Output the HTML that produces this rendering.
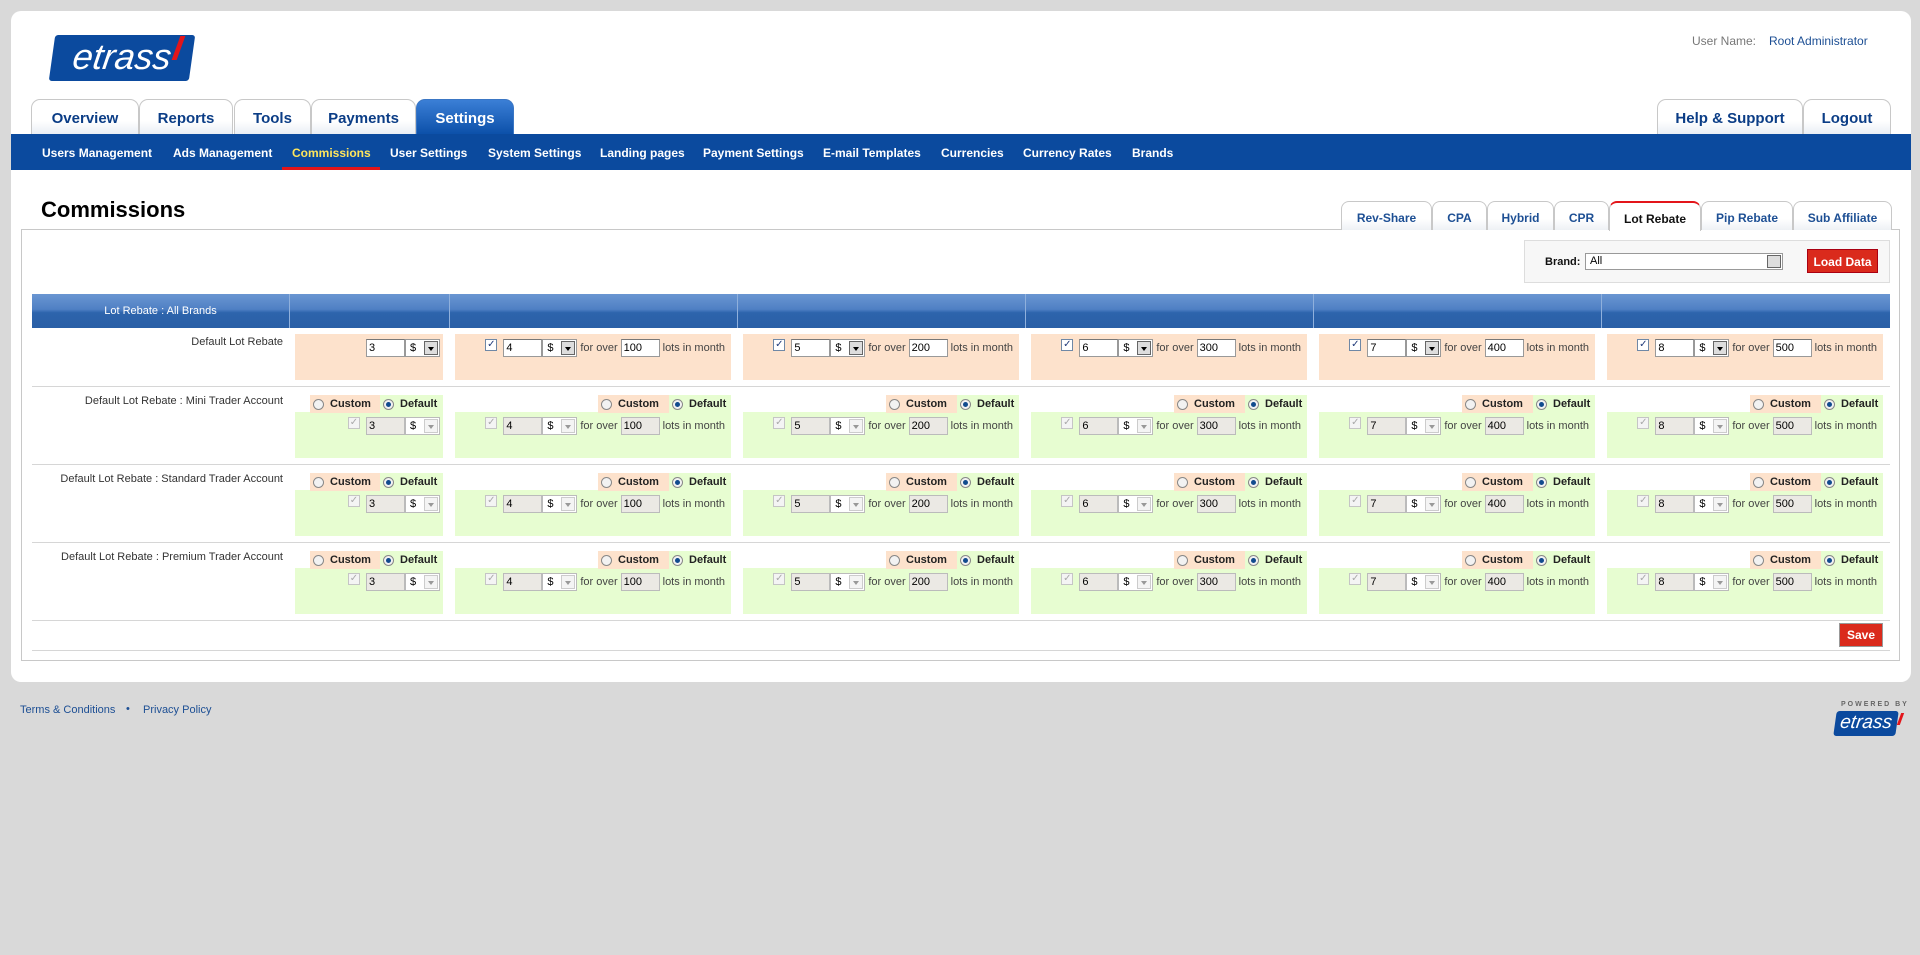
<!DOCTYPE html>
<html><head><meta charset="utf-8">
<style>
*{margin:0;padding:0;box-sizing:border-box}
body{width:1920px;height:955px;background:#d9d9d9;font-family:"Liberation Sans",Arial,sans-serif;position:relative;overflow:hidden;font-size:11px;color:#333}
.abs{position:absolute}
#panel{left:11px;top:11px;width:1900px;height:671px;background:#fff;border-radius:10px}
.logo{background:#0b4a9e;color:#fff;font-style:italic;transform:skewX(-8deg);border-radius:3px;font-family:"Liberation Sans",sans-serif;text-align:center}
.tab{top:99px;height:36px;border:1px solid #c8c8c8;border-bottom:none;border-radius:9px 9px 0 0;background:linear-gradient(#fff 60%,#e8edf4);color:#0b3d86;font-weight:bold;font-size:15px;text-align:center;line-height:38px}
.tab.on{background:linear-gradient(#3b7fd6,#0b4fa8);color:#fff;border-color:#3a76c4}
#nav{left:11px;top:134px;width:1900px;height:36px;background:#0b4a9e}
#nav span{position:absolute;top:12px;color:#fff;font-weight:bold;font-size:12px}
.st{top:201px;height:29px;border:1px solid #c8c8c8;border-bottom:none;border-radius:8px 8px 0 0;background:linear-gradient(#fff 60%,#eef1f5);color:#1d4f94;font-weight:bold;font-size:12px;text-align:center;line-height:32px}
.st.on{border-top:2px solid #e3151a;color:#111;background:#fff;height:30px}
.cell{position:absolute;display:flex;justify-content:flex-end;align-items:center;padding:0 3px 0 0;height:18px}
.pe{background:#fde2cc}.gr{background:#e7fdd1}
.cb{width:12px;height:12px;border:1px solid #6f88a6;background:#fff;margin-right:6px;position:relative;top:-3px;font-size:10px;line-height:10px;color:#223b7a;text-align:center}
.in{width:39px;height:18px;border:1px solid #999;border-top-color:#777;background:#fff;padding-left:2px;font-size:11px;line-height:16px;color:#000}
.sel{width:35px;height:18px;border:1px solid #999;background:#fff;position:relative;padding-left:4px;line-height:16px;color:#000}
.sel i{position:absolute;right:1px;top:1px;width:14px;height:14px;background:#ddd;border:1px solid #666}
.sel i:after{content:"";position:absolute;left:3px;top:5px;border:3px solid transparent;border-top:4px solid #000}
.t{margin:0 3px 0 3px;color:#444}
.d .in{background:#ebe9e4;border-color:#bbb}
.d .sel{border-color:#bbb}.d .sel i{background:#f4f4f4;border-color:#ccc}.d .sel i:after{border-top-color:#999}
.d .cb{border-color:#c5c5c5;color:#aaa;background:#f4f4f4}
.rad{position:absolute;height:18px;display:flex;font-weight:bold;font-size:11px;color:#222}
.rad span{display:flex;align-items:center;padding:0 3px}
.rad b{display:inline-block;width:11px;height:11px;border-radius:50%;border:1px solid #888;background:#f2f2f2;margin-right:6px;position:relative}
.rad b.on:after{content:"";position:absolute;left:2px;top:2px;width:5px;height:5px;border-radius:50%;background:#114b8e}
.lbl{position:absolute;right:1637px;font-size:11px;color:#333;text-align:right;white-space:nowrap}
.sep{position:absolute;left:32px;width:1858px;height:1px;background:#d6d6d6}
.hd{position:absolute;top:294px;height:34px;background:linear-gradient(#6a96d2,#4f80c4 45%,#2d64ac 55%,#2a5fa6);border-right:1px solid #8fb0dc}
</style></head><body>
<div id="panel" class="abs"></div>
<div class="abs logo" style="left:52px;top:35px;width:140px;height:46px;font-size:36px;line-height:44px;">etrass</div>
<div class="abs" style="left:176px;top:36px;width:5px;height:24px;background:#e3151a;transform:skewX(-20deg)"></div>
<div class="abs" style="left:1692px;top:34px;font-size:12px;color:#777">User Name:</div>
<div class="abs" style="left:1769px;top:34px;font-size:12px;color:#1d4f94">Root Administrator</div>

<div class="abs tab" style="left:31px;width:108px">Overview</div>
<div class="abs tab" style="left:139px;width:94px">Reports</div>
<div class="abs tab" style="left:234px;width:77px">Tools</div>
<div class="abs tab" style="left:311px;width:105px">Payments</div>
<div class="abs tab on" style="left:416px;width:98px">Settings</div>
<div class="abs tab" style="left:1657px;width:146px">Help &amp; Support</div>
<div class="abs tab" style="left:1803px;width:88px">Logout</div>

<div id="nav" class="abs">
<span style="left:31px">Users Management</span>
<span style="left:162px">Ads Management</span>
<span style="left:281px;color:#ffe65c">Commissions</span>
<span style="left:379px">User Settings</span>
<span style="left:477px">System Settings</span>
<span style="left:589px">Landing pages</span>
<span style="left:692px">Payment Settings</span>
<span style="left:812px">E-mail Templates</span>
<span style="left:930px">Currencies</span>
<span style="left:1012px">Currency Rates</span>
<span style="left:1121px">Brands</span>
<div class="abs" style="left:271px;top:33px;width:98px;height:3px;background:#e3151a"></div>
</div>

<div class="abs" style="left:41px;top:197px;font-size:22px;font-weight:bold;color:#000">Commissions</div>
<div class="abs" style="left:21px;top:229px;width:1879px;height:432px;border:1px solid #c8c8c8"></div>

<div class="abs st" style="left:1341px;width:91px">Rev-Share</div>
<div class="abs st" style="left:1432px;width:55px">CPA</div>
<div class="abs st" style="left:1487px;width:67px">Hybrid</div>
<div class="abs st" style="left:1554px;width:55px">CPR</div>
<div class="abs st on" style="left:1609px;width:92px">Lot Rebate</div>
<div class="abs st" style="left:1701px;width:92px">Pip Rebate</div>
<div class="abs st" style="left:1793px;width:99px">Sub Affiliate</div>

<div class="abs" style="left:1524px;top:240px;width:366px;height:43px;background:#f7f7f7;border:1px solid #ddd"></div>
<div class="abs" style="left:1545px;top:256px;font-weight:bold;font-size:11px;color:#111">Brand:</div>
<div class="abs" style="left:1585px;top:253px;width:198px;height:17px;border:1px solid #999;background:#fff;padding-left:4px;line-height:15px;font-size:11px;color:#000">All<i style="position:absolute;right:1px;top:1px;width:14px;height:13px;background:#ddd;border:1px solid #666"></i></div>
<div class="abs" style="left:1807px;top:249px;width:71px;height:24px;background:#da2a1c;border:1px solid #a01;color:#fff;font-weight:bold;font-size:12px;text-align:center;line-height:24px">Load Data</div>

<div class="hd" style="left:32px;width:258px;color:#fff;text-align:center;line-height:34px;font-size:11px">Lot Rebate : All Brands</div>
<div class="hd" style="left:290px;width:160px"></div>
<div class="hd" style="left:450px;width:288px"></div>
<div class="hd" style="left:738px;width:288px"></div>
<div class="hd" style="left:1026px;width:288px"></div>
<div class="hd" style="left:1314px;width:288px"></div>
<div class="hd" style="left:1602px;width:288px;border-right:none"></div>

<!-- Row 1 -->
<div class="lbl" style="top:336px">Default Lot Rebate</div>
<div class="abs pe" style="left:295px;top:334px;width:148px;height:46px"></div>
<div class="abs pe" style="left:455px;top:334px;width:276px;height:46px"></div>
<div class="abs pe" style="left:743px;top:334px;width:276px;height:46px"></div>
<div class="abs pe" style="left:1031px;top:334px;width:276px;height:46px"></div>
<div class="abs pe" style="left:1319px;top:334px;width:276px;height:46px"></div>
<div class="abs pe" style="left:1607px;top:334px;width:276px;height:46px"></div>
<div class="cell" style="left:295px;top:339px;width:148px"><div class="in">3</div><div class="sel">$<i></i></div></div>
<div class="cell" style="left:455px;top:339px;width:276px"><div class="cb">✓</div><div class="in">4</div><div class="sel">$<i></i></div><span class="t">for over</span><div class="in">100</div><span class="t">lots in month</span></div>
<div class="cell" style="left:743px;top:339px;width:276px"><div class="cb">✓</div><div class="in">5</div><div class="sel">$<i></i></div><span class="t">for over</span><div class="in">200</div><span class="t">lots in month</span></div>
<div class="cell" style="left:1031px;top:339px;width:276px"><div class="cb">✓</div><div class="in">6</div><div class="sel">$<i></i></div><span class="t">for over</span><div class="in">300</div><span class="t">lots in month</span></div>
<div class="cell" style="left:1319px;top:339px;width:276px"><div class="cb">✓</div><div class="in">7</div><div class="sel">$<i></i></div><span class="t">for over</span><div class="in">400</div><span class="t">lots in month</span></div>
<div class="cell" style="left:1607px;top:339px;width:276px"><div class="cb">✓</div><div class="in">8</div><div class="sel">$<i></i></div><span class="t">for over</span><div class="in">500</div><span class="t">lots in month</span></div>
<div class="sep" style="top:386px"></div>

<!-- Row 2 -->
<div class="lbl" style="top:395px">Default Lot Rebate : Mini Trader Account</div>
<div class="abs gr" style="left:295px;top:412px;width:148px;height:46px"></div>
<div class="abs gr" style="left:455px;top:412px;width:276px;height:46px"></div>
<div class="abs gr" style="left:743px;top:412px;width:276px;height:46px"></div>
<div class="abs gr" style="left:1031px;top:412px;width:276px;height:46px"></div>
<div class="abs gr" style="left:1319px;top:412px;width:276px;height:46px"></div>
<div class="abs gr" style="left:1607px;top:412px;width:276px;height:46px"></div>
<div class="rad" style="left:310px;top:395px"><span class="pe" style="width:70px"><b></b>Custom</span><span class="gr" style="width:63px"><b class="on"></b>Default</span></div>
<div class="rad" style="left:598px;top:395px"><span class="pe" style="width:71px"><b></b>Custom</span><span class="gr" style="width:62px"><b class="on"></b>Default</span></div>
<div class="rad" style="left:886px;top:395px"><span class="pe" style="width:71px"><b></b>Custom</span><span class="gr" style="width:62px"><b class="on"></b>Default</span></div>
<div class="rad" style="left:1174px;top:395px"><span class="pe" style="width:71px"><b></b>Custom</span><span class="gr" style="width:62px"><b class="on"></b>Default</span></div>
<div class="rad" style="left:1462px;top:395px"><span class="pe" style="width:71px"><b></b>Custom</span><span class="gr" style="width:62px"><b class="on"></b>Default</span></div>
<div class="rad" style="left:1750px;top:395px"><span class="pe" style="width:71px"><b></b>Custom</span><span class="gr" style="width:62px"><b class="on"></b>Default</span></div>
<div class="cell d" style="left:295px;top:417px;width:148px"><div class="cb">✓</div><div class="in">3</div><div class="sel">$<i></i></div></div>
<div class="cell d" style="left:455px;top:417px;width:276px"><div class="cb">✓</div><div class="in">4</div><div class="sel">$<i></i></div><span class="t">for over</span><div class="in">100</div><span class="t">lots in month</span></div>
<div class="cell d" style="left:743px;top:417px;width:276px"><div class="cb">✓</div><div class="in">5</div><div class="sel">$<i></i></div><span class="t">for over</span><div class="in">200</div><span class="t">lots in month</span></div>
<div class="cell d" style="left:1031px;top:417px;width:276px"><div class="cb">✓</div><div class="in">6</div><div class="sel">$<i></i></div><span class="t">for over</span><div class="in">300</div><span class="t">lots in month</span></div>
<div class="cell d" style="left:1319px;top:417px;width:276px"><div class="cb">✓</div><div class="in">7</div><div class="sel">$<i></i></div><span class="t">for over</span><div class="in">400</div><span class="t">lots in month</span></div>
<div class="cell d" style="left:1607px;top:417px;width:276px"><div class="cb">✓</div><div class="in">8</div><div class="sel">$<i></i></div><span class="t">for over</span><div class="in">500</div><span class="t">lots in month</span></div>
<div class="sep" style="top:464px"></div>

<!-- Row 3 -->
<div class="lbl" style="top:473px">Default Lot Rebate : Standard Trader Account</div>
<div class="abs gr" style="left:295px;top:490px;width:148px;height:46px"></div>
<div class="abs gr" style="left:455px;top:490px;width:276px;height:46px"></div>
<div class="abs gr" style="left:743px;top:490px;width:276px;height:46px"></div>
<div class="abs gr" style="left:1031px;top:490px;width:276px;height:46px"></div>
<div class="abs gr" style="left:1319px;top:490px;width:276px;height:46px"></div>
<div class="abs gr" style="left:1607px;top:490px;width:276px;height:46px"></div>
<div class="rad" style="left:310px;top:473px"><span class="pe" style="width:70px"><b></b>Custom</span><span class="gr" style="width:63px"><b class="on"></b>Default</span></div>
<div class="rad" style="left:598px;top:473px"><span class="pe" style="width:71px"><b></b>Custom</span><span class="gr" style="width:62px"><b class="on"></b>Default</span></div>
<div class="rad" style="left:886px;top:473px"><span class="pe" style="width:71px"><b></b>Custom</span><span class="gr" style="width:62px"><b class="on"></b>Default</span></div>
<div class="rad" style="left:1174px;top:473px"><span class="pe" style="width:71px"><b></b>Custom</span><span class="gr" style="width:62px"><b class="on"></b>Default</span></div>
<div class="rad" style="left:1462px;top:473px"><span class="pe" style="width:71px"><b></b>Custom</span><span class="gr" style="width:62px"><b class="on"></b>Default</span></div>
<div class="rad" style="left:1750px;top:473px"><span class="pe" style="width:71px"><b></b>Custom</span><span class="gr" style="width:62px"><b class="on"></b>Default</span></div>
<div class="cell d" style="left:295px;top:495px;width:148px"><div class="cb">✓</div><div class="in">3</div><div class="sel">$<i></i></div></div>
<div class="cell d" style="left:455px;top:495px;width:276px"><div class="cb">✓</div><div class="in">4</div><div class="sel">$<i></i></div><span class="t">for over</span><div class="in">100</div><span class="t">lots in month</span></div>
<div class="cell d" style="left:743px;top:495px;width:276px"><div class="cb">✓</div><div class="in">5</div><div class="sel">$<i></i></div><span class="t">for over</span><div class="in">200</div><span class="t">lots in month</span></div>
<div class="cell d" style="left:1031px;top:495px;width:276px"><div class="cb">✓</div><div class="in">6</div><div class="sel">$<i></i></div><span class="t">for over</span><div class="in">300</div><span class="t">lots in month</span></div>
<div class="cell d" style="left:1319px;top:495px;width:276px"><div class="cb">✓</div><div class="in">7</div><div class="sel">$<i></i></div><span class="t">for over</span><div class="in">400</div><span class="t">lots in month</span></div>
<div class="cell d" style="left:1607px;top:495px;width:276px"><div class="cb">✓</div><div class="in">8</div><div class="sel">$<i></i></div><span class="t">for over</span><div class="in">500</div><span class="t">lots in month</span></div>
<div class="sep" style="top:542px"></div>

<!-- Row 4 -->
<div class="lbl" style="top:551px">Default Lot Rebate : Premium Trader Account</div>
<div class="abs gr" style="left:295px;top:568px;width:148px;height:46px"></div>
<div class="abs gr" style="left:455px;top:568px;width:276px;height:46px"></div>
<div class="abs gr" style="left:743px;top:568px;width:276px;height:46px"></div>
<div class="abs gr" style="left:1031px;top:568px;width:276px;height:46px"></div>
<div class="abs gr" style="left:1319px;top:568px;width:276px;height:46px"></div>
<div class="abs gr" style="left:1607px;top:568px;width:276px;height:46px"></div>
<div class="rad" style="left:310px;top:551px"><span class="pe" style="width:70px"><b></b>Custom</span><span class="gr" style="width:63px"><b class="on"></b>Default</span></div>
<div class="rad" style="left:598px;top:551px"><span class="pe" style="width:71px"><b></b>Custom</span><span class="gr" style="width:62px"><b class="on"></b>Default</span></div>
<div class="rad" style="left:886px;top:551px"><span class="pe" style="width:71px"><b></b>Custom</span><span class="gr" style="width:62px"><b class="on"></b>Default</span></div>
<div class="rad" style="left:1174px;top:551px"><span class="pe" style="width:71px"><b></b>Custom</span><span class="gr" style="width:62px"><b class="on"></b>Default</span></div>
<div class="rad" style="left:1462px;top:551px"><span class="pe" style="width:71px"><b></b>Custom</span><span class="gr" style="width:62px"><b class="on"></b>Default</span></div>
<div class="rad" style="left:1750px;top:551px"><span class="pe" style="width:71px"><b></b>Custom</span><span class="gr" style="width:62px"><b class="on"></b>Default</span></div>
<div class="cell d" style="left:295px;top:573px;width:148px"><div class="cb">✓</div><div class="in">3</div><div class="sel">$<i></i></div></div>
<div class="cell d" style="left:455px;top:573px;width:276px"><div class="cb">✓</div><div class="in">4</div><div class="sel">$<i></i></div><span class="t">for over</span><div class="in">100</div><span class="t">lots in month</span></div>
<div class="cell d" style="left:743px;top:573px;width:276px"><div class="cb">✓</div><div class="in">5</div><div class="sel">$<i></i></div><span class="t">for over</span><div class="in">200</div><span class="t">lots in month</span></div>
<div class="cell d" style="left:1031px;top:573px;width:276px"><div class="cb">✓</div><div class="in">6</div><div class="sel">$<i></i></div><span class="t">for over</span><div class="in">300</div><span class="t">lots in month</span></div>
<div class="cell d" style="left:1319px;top:573px;width:276px"><div class="cb">✓</div><div class="in">7</div><div class="sel">$<i></i></div><span class="t">for over</span><div class="in">400</div><span class="t">lots in month</span></div>
<div class="cell d" style="left:1607px;top:573px;width:276px"><div class="cb">✓</div><div class="in">8</div><div class="sel">$<i></i></div><span class="t">for over</span><div class="in">500</div><span class="t">lots in month</span></div>
<div class="sep" style="top:620px"></div>
<div class="abs" style="left:1839px;top:623px;width:44px;height:24px;background:#da2a1c;border:1px solid #999;color:#fff;font-weight:bold;font-size:12px;text-align:center;line-height:22px">Save</div>
<div class="sep" style="top:650px"></div>

<div class="abs" style="left:20px;top:704px;font-size:11px;color:#1d4f94">Terms &amp; Conditions</div>
<div class="abs" style="left:126px;top:703px;font-size:11px;color:#1d4f94">•</div>
<div class="abs" style="left:143px;top:704px;font-size:11px;color:#1d4f94">Privacy Policy</div>
<div class="abs" style="left:1841px;top:701px;font-size:7px;letter-spacing:2px;color:#666;font-weight:bold">POWERED BY</div>
<div class="abs logo" style="left:1835px;top:711px;width:62px;height:25px;font-size:19px;line-height:24px">etrass</div>
<div class="abs" style="left:1899px;top:713px;width:3px;height:12px;background:#e3151a;transform:skewX(-20deg)"></div>
</body></html>
